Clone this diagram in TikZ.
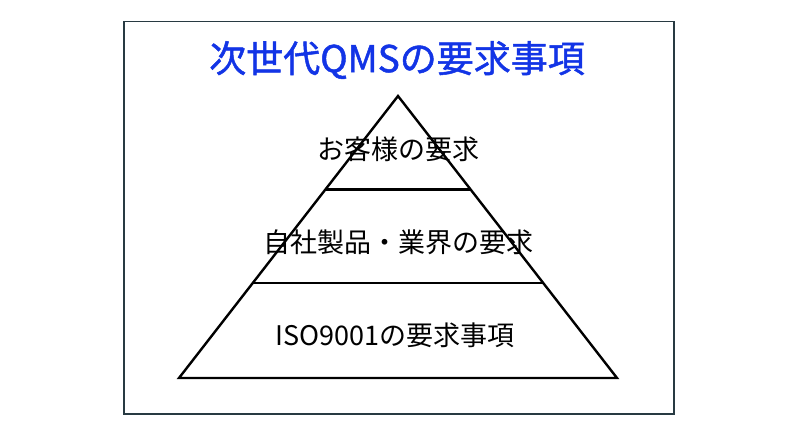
\documentclass[tikz,border=0pt]{standalone}
\usepackage{fontspec}
\usetikzlibrary{calc}
\newfontfamily\jpfont{Noto Sans CJK JP}
\newfontfamily\jptitle[FakeBold=1.3]{Noto Sans CJK JP}
\definecolor{titleblue}{RGB}{18,52,230}
\definecolor{framecol}{RGB}{40,58,66}
\begin{document}
\begin{tikzpicture}[x=1pt,y=-1pt,
  frame/.style={draw=framecol,line width=1.4pt},
  pyr/.style={draw=black,line width=2.4pt,line join=miter},
  layertext/.style={font=\jpfont\fontsize{27}{30}\selectfont,inner sep=0pt,anchor=center},
  titletext/.style={font=\jptitle\fontsize{37}{40}\selectfont,text=titleblue,inner sep=0pt,anchor=center}]
\useasboundingbox (0,0) rectangle (800,441);
\fill[white] (0,0) rectangle (800,441);
\draw[frame] (124,21.5) rectangle (674,414);
\node[titletext] (title) at (397,60) {次世代QMSの要求事項};
\coordinate (apex) at (398,96);
\coordinate (bl) at (179,378);
\coordinate (br) at (617,378);
\draw[pyr] (apex) -- (br) -- (bl) -- cycle;
\coordinate (l1a) at ($(apex)!0.331!(bl)$);
\coordinate (l1b) at ($(apex)!0.331!(br)$);
\coordinate (l2a) at ($(apex)!0.663!(bl)$);
\coordinate (l2b) at ($(apex)!0.663!(br)$);
\draw[pyr] (l1a) -- (l1b);
\draw[pyr] (l2a) -- (l2b);
\node[layertext] (t1) at (398,149) {お客様の要求};
\node[layertext] (t2) at (398,242) {自社製品・業界の要求};
\node[layertext] (t3) at (395,335) {ISO9001の要求事項};
\end{tikzpicture}
\end{document}
